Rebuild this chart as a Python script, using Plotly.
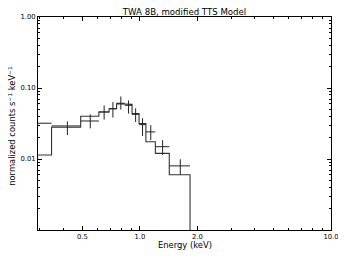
import plotly.graph_objects as go

# Energy bin edges (keV)
bin_lo = [0.29, 0.345, 0.49, 0.61, 0.69, 0.755, 0.835, 0.91, 0.99, 1.075, 1.205, 1.425]
bin_hi = [0.345, 0.49, 0.61, 0.69, 0.755, 0.835, 0.91, 0.99, 1.075, 1.205, 1.425, 1.83]

# Data (normalized counts s^-1 keV^-1) and error bounds
data_val = [0.0319, 0.0292, 0.0343, 0.0460, 0.0510, 0.0610, 0.0570, 0.0426, 0.0305, 0.0241, 0.0149, 0.0080]
data_hi = [0.0319, 0.0339, 0.0425, 0.0569, 0.0633, 0.0760, 0.0668, 0.0517, 0.0374, 0.0299, 0.0184, 0.0099]
data_lo = [0.0319, 0.0217, 0.0270, 0.0359, 0.0383, 0.0496, 0.0436, 0.0332, 0.0211, 0.0184, 0.0114, 0.0060]

# Model step values
model_val = [0.0114, 0.0280, 0.0400, 0.0460, 0.0510, 0.0600, 0.0588, 0.0435, 0.0316, 0.0175, 0.0120, 0.0060]

x_major = [0.5, 1.0, 2.0, 10.0]
x_major_text = ["0.5", "1.0", "2.0", "10.0"]
x_minor = [0.3, 0.4, 0.6, 0.7, 0.8, 0.9, 3, 4, 5, 6, 7, 8, 9]
y_major = [0.01, 0.1, 1.0]
y_major_text = ["0.01", "0.10", "1.00"]
y_minor = [0.002, 0.003, 0.004, 0.005, 0.006, 0.007, 0.008, 0.009,
           0.02, 0.03, 0.04, 0.05, 0.06, 0.07, 0.08, 0.09,
           0.2, 0.3, 0.4, 0.5, 0.6, 0.7, 0.8, 0.9]

# model step path
mx, my = [], []
for lo, hi, m in zip(bin_lo, bin_hi, model_val):
    mx += [lo, hi]
    my += [m, m]
mx.append(bin_hi[-1])
my.append(1e-5)

centers = [(lo + hi) / 2 for lo, hi in zip(bin_lo, bin_hi)]
ex_plus = [hi - c for hi, c in zip(bin_hi, centers)]
ex_minus = [c - lo for lo, c in zip(bin_lo, centers)]
ey_plus = [h - v for h, v in zip(data_hi, data_val)]
ey_minus = [v - l for l, v in zip(data_lo, data_val)]

fig = go.Figure()
fig.add_trace(go.Scatter(
    x=mx, y=my, mode="lines",
    line=dict(color="#333333", width=1.1), hoverinfo="skip", showlegend=False))
fig.add_trace(go.Scatter(
    x=centers, y=data_val, mode="markers",
    marker=dict(size=0.1, color="#222222"),
    error_x=dict(type="data", symmetric=False, array=ex_plus, arrayminus=ex_minus,
                 color="#222222", thickness=1, width=0),
    error_y=dict(type="data", symmetric=False, array=ey_plus, arrayminus=ey_minus,
                 color="#222222", thickness=1, width=0),
    showlegend=False))

axis_common = dict(
    showline=True, linecolor="black", linewidth=1, mirror="allticks",
    ticks="inside", ticklen=4, tickwidth=1, tickcolor="black",
    showgrid=False, zeroline=False, automargin=False,
    tickfont=dict(family="DejaVu Sans", size=6.8, color="black"),
)

fig.update_xaxes(
    type="log", range=[-0.5331, 1.0],
    tickmode="array", tickvals=x_major, ticktext=x_major_text,
    minor=dict(tickmode="array", tickvals=x_minor, ticks="inside", ticklen=2,
               tickcolor="black", showgrid=False),
    **axis_common)
fig.update_yaxes(
    type="log", range=[-3, 0],
    tickmode="array", tickvals=y_major, ticktext=y_major_text,
    minor=dict(tickmode="array", tickvals=y_minor, ticks="inside", ticklen=2,
               tickcolor="black", showgrid=False),
    **axis_common)

fig.update_layout(
    width=338, height=252,
    margin=dict(l=30, r=15, t=9, b=30, autoexpand=False),
    paper_bgcolor="white", plot_bgcolor="white",
    title=dict(text="TWA 8B, modified TTS Model", xref="paper", x=0.5, xanchor="center",
               y=0.997, yanchor="top",
               font=dict(family="DejaVu Sans", size=8.6, color="black")),
    annotations=[
        dict(text="Energy (keV)", xref="paper", yref="paper", x=0.5, y=-0.072,
             xanchor="center", yanchor="middle", showarrow=False,
             font=dict(family="DejaVu Sans", size=8.4, color="black")),
        dict(text="normalized counts s<sup>−1</sup> keV<sup>−1</sup>",
             xref="paper", yref="paper", x=-0.088, y=0.49, textangle=-90,
             xanchor="center", yanchor="middle", showarrow=False,
             font=dict(family="DejaVu Sans", size=8.4, color="black")),
    ],
)

fig.write_html("out.html")
